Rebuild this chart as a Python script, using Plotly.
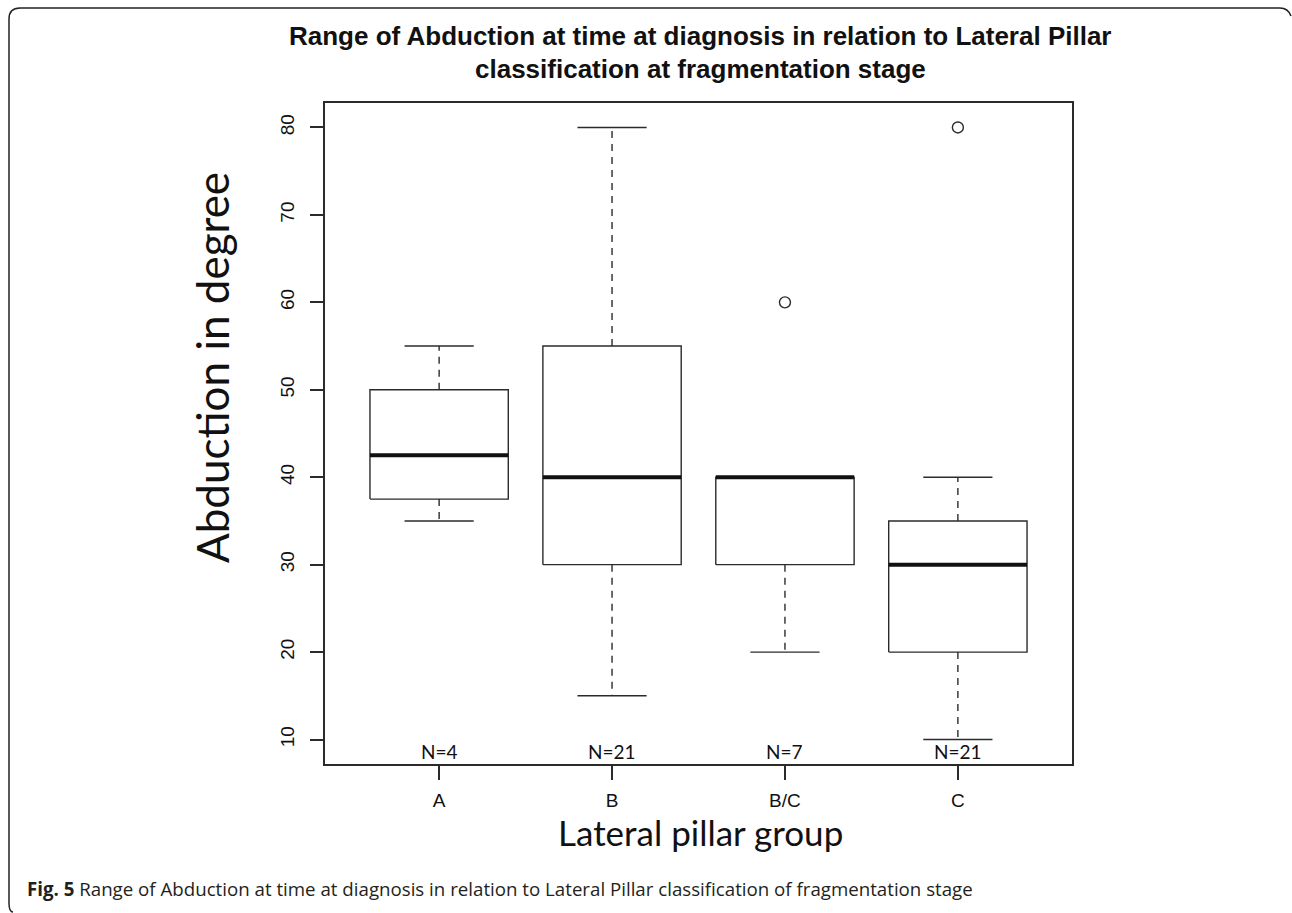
import plotly.graph_objects as go

# ---- data ----
groups = ["A", "B", "B/C", "C"]
lower_whisker = [35, 15, 20, 10]
q1 = [37.5, 30, 30, 20]
median = [42.5, 40, 40, 30]
q3 = [50, 55, 40, 35]
upper_whisker = [55, 80, 40, 40]
outlier_group = [3, 4]          # 1-based positions of groups with outliers
outlier_value = [60, 80]
n_labels = ["N=4", "N=21", "N=7", "N=21"]
y_ticks = [10, 20, 30, 40, 50, 60, 70, 80]

W, H = 1292, 913
L, R, T, B = 325, 1072, 103, 764
LINE = "#2b2b2b"
BOXW = 0.4
CAPW = 0.2

fig = go.Figure()

positions = list(range(1, len(groups) + 1))

for i, x in enumerate(positions):
    # whiskers (dashed)
    fig.add_trace(go.Scatter(x=[x, x, None, x, x],
                             y=[q3[i], upper_whisker[i], None, q1[i], lower_whisker[i]],
                             mode="lines", line=dict(color=LINE, width=1.4, dash="7px,6px"),
                             hoverinfo="skip", showlegend=False))
    # caps
    fig.add_trace(go.Scatter(x=[x - CAPW, x + CAPW, None, x - CAPW, x + CAPW],
                             y=[upper_whisker[i], upper_whisker[i], None, lower_whisker[i], lower_whisker[i]],
                             mode="lines", line=dict(color=LINE, width=1.4),
                             hoverinfo="skip", showlegend=False))
    # box
    fig.add_trace(go.Scatter(x=[x - BOXW, x + BOXW, x + BOXW, x - BOXW, x - BOXW],
                             y=[q1[i], q1[i], q3[i], q3[i], q1[i]],
                             mode="lines", fill="toself", fillcolor="white",
                             line=dict(color=LINE, width=1.4),
                             hoverinfo="skip", showlegend=False))
    # median
    fig.add_trace(go.Scatter(x=[x - BOXW, x + BOXW], y=[median[i], median[i]],
                             mode="lines", line=dict(color="#111111", width=4),
                             hoverinfo="skip", showlegend=False))

# outliers
fig.add_trace(go.Scatter(x=outlier_group, y=outlier_value, mode="markers",
                         marker=dict(symbol="circle-open", size=11, color=LINE,
                                     line=dict(width=1.4, color=LINE)),
                         hoverinfo="skip", showlegend=False))

# N labels
for x, lab in zip(positions, n_labels):
    fig.add_annotation(x=x, y=7.2, xref="x", yref="y", text=lab, showarrow=False,
                       yanchor="bottom", yshift=-1,
                       font=dict(family="Lato", size=19, color="#111111"))

def py(p):
    return (B - p) / (B - T)

def px(p):
    return (p - L) / (R - L)

def note(x, y, text, font, **kw):
    fig.add_annotation(x=px(x), y=py(y), xref="paper", yref="paper", showarrow=False,
                       xanchor=kw.pop("xanchor", "center"), yanchor="middle",
                       text=text, font=font, **kw)

TF = dict(family="Liberation Sans", size=26, color="#111111")
note(700, 36, "<b>Range of Abduction at time at diagnosis in relation to Lateral Pillar</b>", TF)
note(700, 69, "<b>classification at fragmentation stage</b>", TF)

# axis titles
note(212, 368, "Abduction in degree", dict(family="Lato", size=44, color="#111111"),
     textangle=-90)
note(700, 832, "Lateral pillar group", dict(family="Lato", size=35, color="#111111"))

# caption
note(25, 888,
     "<b>Fig. 5</b> Range of Abduction at time at diagnosis in relation to Lateral Pillar classification of fragmentation stage",
     dict(family="Open Sans", size=18.7, color="#231f20"), xanchor="left")

# outer page border (top + left with rounded corners)
fig.add_shape(type="path", xref="paper", yref="paper",
              xsizemode="pixel", ysizemode="pixel", xanchor=0, yanchor=0,
              path=("M {a},{b} Q {c},{d} {e},{d} L {f},{d} Q {g},{d} {g},{h} "
                    "L {g},{i} Q {g},{j} {k},{j}").format(
                  a=1291 - L, b=B - 16, c=1288 - L, d=B - 8, e=1280 - L,
                  f=20 - L, g=9 - L, h=B - 19, i=B - 903, j=B - 912, k=13 - L),
              line=dict(color="#222222", width=1.5))

fig.update_layout(
    width=W, height=H,
    margin=dict(l=L, r=W - R, t=T, b=H - B, pad=0),
    paper_bgcolor="white", plot_bgcolor="white",
    showlegend=False,
    xaxis=dict(range=[0.34, 4.66], tickvals=positions, ticktext=groups,
               showgrid=False, zeroline=False, showline=True, mirror=True,
               linecolor=LINE, linewidth=1.5, ticks="outside", ticklen=14,
               tickcolor=LINE, tickwidth=1.5, ticklabelstandoff=4,
               tickfont=dict(family="Liberation Sans", size=19, color="#111111")),
    yaxis=dict(range=[7.2, 82.8], tickvals=y_ticks,
               showgrid=False, zeroline=False, showline=True, mirror=True,
               linecolor=LINE, linewidth=1.5, ticks="outside", ticklen=13,
               tickcolor=LINE, tickwidth=1.5, tickangle=-90, ticklabelstandoff=9,
               tickfont=dict(family="Liberation Sans", size=19, color="#111111")),
)

fig.write_html("out.html")
